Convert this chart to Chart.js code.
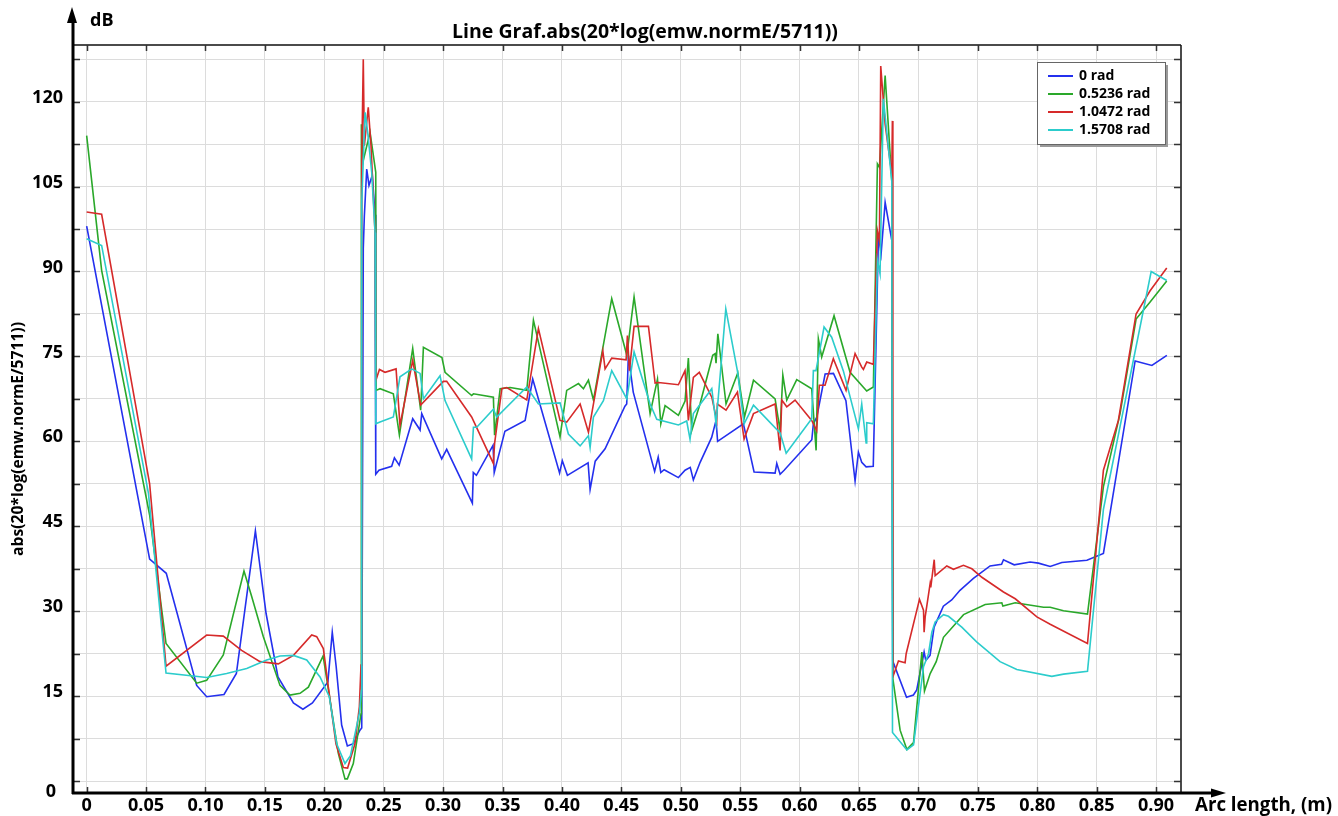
<!DOCTYPE html>
<html><head><meta charset="utf-8">
<script src="https://cdn.jsdelivr.net/npm/chart.js@4"></script>
<style>html,body{margin:0;padding:0;background:#fff}#wrap{width:1338px;height:816px;position:relative}</style>
</head><body><div id="wrap"><canvas id="c" width="1338" height="816"></canvas></div>
<script>
const seriesNames = ['0 rad', '0.5236 rad', '1.0472 rad', '1.5708 rad'];
const seriesColors = ['#2430ee', '#2aa82a', '#d62a2a', '#2ccccc'];

const blueX = [0,0.053,0.067,0.0926,0.101,0.1156,0.126,0.142,0.151,0.161,0.174,0.182,0.19,0.203,0.2067,0.21,0.2146,0.2194,0.2244,0.23,0.2315,0.2328,0.2337,0.2357,0.2376,0.2404,0.2427,0.2433,
0.246,0.2567,0.259,0.263,0.2744,0.2806,0.282,0.2988,0.303,0.3246,0.3254,0.328,0.342,0.343,0.352,0.369,0.3754,0.398,0.4003,0.4046,0.422,0.4237,0.428,0.4363,0.453,0.4545,0.4559,0.46,0.478,0.481,0.4832,0.486,0.498,0.5036,0.508,0.5106,0.5163,0.526,0.5297,0.531,0.5527,0.5617,0.5794,0.5808,0.5836,0.587,0.6103,0.6116,0.6145,0.6215,0.6285,0.639,0.6467,0.6495,0.6523,0.656,0.662,
0.6664,0.6686,0.672,0.6776,0.6784,0.690,0.6958,0.6986,0.7048,0.7062,0.7098,0.7132,0.721,0.728,0.735,0.7463,0.7603,0.770,0.7716,0.7806,0.794,0.801,0.8109,0.8207,0.8418,0.8557,0.8824,0.8965,0.9091];
const blueY = [98,39.2,36.7,16.9,14.9,15.3,19,44.2,29.6,18.4,13.8,12.7,13.8,17.5,26.3,20.2,9.9,6.2,6.6,9.0,9.4,94,99.8,108.1,105.2,107,100,54.2,
54.9,55.6,57.1,55.8,64,62,64.9,56.9,58.6,49.1,54.5,54,59.3,54.5,61.8,63.7,71,54.4,56.6,54,56.2,51.5,56.5,58.7,66.2,66.6,75.2,68.7,54.7,57.2,54.5,55,53.6,54.9,55.4,53.2,56.3,60.7,63.7,60,63.1,54.6,54.4,56.1,54.2,54.9,60.3,63.1,64.3,71.9,72,67.2,53,58.1,56.3,55.5,55.6,
96.6,93.1,102.2,95.5,21.2,14.8,15.2,16.1,22.8,21.3,22.2,27.2,30.9,32.0,33.7,35.8,38,38.3,39.1,38.2,38.7,38.5,37.9,38.6,39,40.2,74.2,73.4,75.2];

const greenX = [0,0.0126,0.053,0.0668,0.0926,0.101,0.115,0.1324,0.139,0.1487,0.1627,0.1711,0.1796,0.1866,0.199,0.2118,0.2174,0.2194,0.2244,0.2309,0.2312,0.2328,0.2385,0.2433,
0.2436,0.2469,0.2581,0.2632,0.2744,0.2811,0.2834,0.299,0.3016,0.324,0.3255,0.3423,0.3433,0.348,0.3564,0.3704,0.376,0.3984,0.404,0.4139,0.4181,0.4223,0.4265,0.4419,0.4546,0.4607,0.4742,0.4804,0.4832,0.4868,0.498,0.5036,0.5064,0.5092,0.5162,0.5269,0.5289,0.5297,0.5312,0.5381,0.548,0.5536,0.5612,0.5794,0.5836,0.5859,0.5892,0.5976,0.6102,0.6139,0.6158,0.6186,0.629,0.6425,0.6565,0.6621,
0.6655,0.6672,0.672,0.6776,0.6785,0.6846,0.6903,0.6959,0.7029,0.7051,0.7099,0.715,0.7211,0.738,0.7562,0.7702,0.7711,0.7815,0.8053,0.8109,0.8221,0.8423,0.8557,0.8697,0.8832,0.895,0.909];
const greenY = [114,90.2,47,24.3,17.3,17.8,22.3,37.1,32.5,25.5,16.9,15.2,15.5,16.6,22.1,4.9,0.4,0.4,3.1,11.9,116,109.6,114.6,107.5,
69.0,69.3,68.4,61.1,76.4,65.5,76.6,74.8,72.2,68.1,68.4,67.8,61.1,69.3,69.5,69.0,81.4,60.8,69.0,70.2,69.3,70.8,67.3,85.2,75.2,85.5,64.9,71.0,63.1,66.3,64.6,67.1,74.7,61.9,66.6,75.2,75.5,73.8,79.0,66.6,72.1,64.3,70.8,67.5,61.9,71.7,67.3,70.9,69.3,58.4,78.1,74.9,82.2,72.2,68.9,69.6,
109.0,108.4,124.6,106.0,18.1,9.0,5.6,6.8,22.8,15.9,19.0,21.1,25.4,29.4,31.2,31.5,30.9,31.5,30.7,30.7,30.1,29.5,52,64.9,81.6,84.6,88.3];

const redX = [0,0.0126,0.053,0.0668,0.101,0.115,0.1304,0.1459,0.1613,0.174,0.1894,0.1936,0.1992,0.2034,0.2098,0.216,0.2196,0.2258,0.2295,0.2309,0.2315,0.2328,0.2337,0.237,0.2393,0.2427,
0.2433,0.2464,0.2511,0.2604,0.2637,0.2744,0.2811,0.3002,0.303,0.324,0.3423,0.3433,0.3494,0.3536,0.3704,0.3802,0.3984,0.404,0.4153,0.4223,0.4344,0.4363,0.4419,0.454,0.4551,0.4568,0.4607,0.4728,0.4784,0.4812,0.498,0.5036,0.5064,0.5106,0.5156,0.5261,0.5303,0.5308,0.5381,0.5477,0.5533,0.5612,0.5794,0.5836,0.585,0.5892,0.5962,0.6102,0.6144,0.6166,0.6214,0.6284,0.6391,0.6467,0.6523,0.6537,0.6565,0.6621,
0.6655,0.6672,0.6683,0.672,0.6776,0.6781,0.6785,0.6832,0.6888,0.6897,0.7009,0.7043,0.7048,0.7057,0.7099,0.7104,0.7133,0.7141,0.7239,0.7295,0.7379,0.745,0.7534,0.7716,0.7815,0.7997,0.8109,0.8423,0.8557,0.8683,0.8832,0.895,0.909];
const redY = [100.5,100.1,52.5,20.3,25.8,25.6,23.1,21.1,20.7,22.2,25.8,25.5,23.4,16.6,6.6,2.4,2.3,6.6,13.1,20.5,109.9,127.5,112.2,119,112.2,96.9,
70.7,72.7,72.2,72.8,62.8,74.3,66.4,70.6,70.6,64.3,56.1,59.6,69.3,69.5,67.3,79.9,63.7,63.4,66.6,61.6,76.0,72.8,74.7,74.4,78.7,72.5,80.3,80.3,70.3,70.4,70.0,72.5,63.7,71.3,72.2,67.8,63.7,66.6,65.5,68.7,60.4,64.9,66.6,58.4,67.3,66.1,67.3,63.7,61.9,69.9,69.9,74.6,69.0,75.5,73.1,72.7,74.0,73.6,
97.2,95.4,126.3,116.0,107.2,116.6,18.4,21.2,20.9,22.5,32.1,30.2,26.3,29.0,34.9,34.2,39.1,36.3,38.0,37.4,38.1,37.5,36.0,33.4,32.2,29.0,27.7,24.3,54.9,63.7,82.5,86.6,90.6];

const cyanX = [0,0.0126,0.052,0.0668,0.101,0.1178,0.1347,0.1515,0.1627,0.174,0.1852,0.1964,0.2042,0.2104,0.2174,0.222,0.2295,0.2312,0.2315,0.2343,0.2365,0.2399,0.2427,
0.2433,0.2469,0.2581,0.2637,0.2736,0.2806,0.2834,0.2974,0.3016,0.324,0.3255,0.3283,0.3423,0.3451,0.3704,0.3802,0.3984,0.4054,0.4153,0.4223,0.4237,0.4265,0.4349,0.4419,0.4546,0.4607,0.4742,0.4798,0.498,0.505,0.5078,0.5106,0.5261,0.5297,0.5379,0.5477,0.5533,0.5612,0.5836,0.5887,0.6102,0.6116,0.6138,0.6206,0.627,0.6369,0.6495,0.6523,0.656,0.6565,0.6621,
0.6655,0.6677,0.6705,0.6776,0.6782,0.6903,0.6959,0.7043,0.7085,0.7113,0.7141,0.7211,0.7253,0.7365,0.749,0.7687,0.7828,0.8123,0.8221,0.8423,0.8557,0.8959,0.909];
const cyanY = [95.8,94.6,50.8,19.1,18.3,19,19.9,21.4,22.1,22.2,21.4,18.4,14.9,6.6,3.1,4.5,12,16,102.2,118.1,114.6,107.5,96.9,
63.1,63.4,64.3,71.4,72.8,72.0,67.5,71.6,67.2,56.9,62.5,62.5,65.7,64.3,69.6,66.6,66.8,61.3,59.2,61.0,58.9,64.3,67.2,72.5,67.5,75.8,66.6,63.9,62.9,63.6,60.4,64.9,69.3,63.1,83.4,72.4,63.1,66.4,61.5,57.9,64.0,72.5,72.5,80.2,78.4,72.4,62.2,66.6,59.7,63.3,63.1,
92.0,89.6,120.5,106,8.6,5.5,6.4,20.2,22.5,26.3,28.1,29.4,29.1,27.2,24.6,21.1,19.7,18.5,18.9,19.4,48,90,88.4];

const xTickValues = [0,0.05,0.10,0.15,0.20,0.25,0.30,0.35,0.40,0.45,0.50,0.55,0.60,0.65,0.70,0.75,0.80,0.85,0.90];
const xTickLabels = ['0','0.05','0.10','0.15','0.20','0.25','0.30','0.35','0.40','0.45','0.50','0.55','0.60','0.65','0.70','0.75','0.80','0.85','0.90'];
const yGridValues = [0,7.5,15,22.5,30,37.5,45,52.5,60,67.5,75,82.5,90,97.5,105,112.5,120,127.5];
const yLabelValues = [0,15,30,45,60,75,90,105,120];

const chartTitle = 'Line Graf.abs(20*log(emw.normE/5711))';
const yTitle = 'abs(20*log(emw.normE/5711))';
const xTitle = 'Arc length, (m)';
const yUnit = 'dB';

const FONT = "'Open Sans', sans-serif";

function pts(xs, ys) { return xs.map((x, i) => ({ x: x, y: ys[i] })); }

function fitFont(ctx, text, target, weight) {
  ctx.font = weight + ' 20px ' + FONT;
  const w = ctx.measureText(text).width;
  return 20 * target / w;
}

const decor = {
  id: 'decor',
  afterDraw(chart) {
    const ctx = chart.ctx;
    const a = chart.chartArea;
    const xs = chart.scales.x, ys = chart.scales.y;
    ctx.save();
    ctx.strokeStyle = '#111';
    ctx.lineWidth = 1.5;
    ctx.beginPath();
    ctx.moveTo(a.left, a.top); ctx.lineTo(a.right, a.top);
    ctx.moveTo(a.right, a.top); ctx.lineTo(a.right, a.bottom);
    ctx.stroke();
    ctx.strokeStyle = '#333';
    ctx.lineWidth = 1.5;
    ctx.beginPath();
    xTickValues.forEach(v => {
      const p = Math.round(xs.getPixelForValue(v)) + 0.5;
      ctx.moveTo(p, a.top); ctx.lineTo(p, a.top + 6);
      ctx.moveTo(p, a.bottom); ctx.lineTo(p, a.bottom - 6);
    });
    yGridValues.forEach(v => {
      const p = Math.round(ys.getPixelForValue(v)) + 0.5;
      ctx.moveTo(a.left, p); ctx.lineTo(a.left + 7, p);
      ctx.moveTo(a.right, p); ctx.lineTo(a.right - 7, p);
    });
    ctx.stroke();
    ctx.strokeStyle = '#000';
    ctx.fillStyle = '#000';
    ctx.lineWidth = 3;
    ctx.beginPath();
    ctx.moveTo(a.left, a.bottom + 1); ctx.lineTo(a.left, 20);
    ctx.moveTo(a.left - 1, a.bottom); ctx.lineTo(1212, a.bottom);
    ctx.stroke();
    ctx.beginPath();
    ctx.moveTo(a.left - 1, 7); ctx.lineTo(a.left - 6, 23); ctx.lineTo(a.left + 4, 23); ctx.closePath();
    ctx.fill();
    ctx.beginPath();
    ctx.moveTo(1226, a.bottom); ctx.lineTo(1211, a.bottom - 4.5); ctx.lineTo(1211, a.bottom + 4.5); ctx.closePath();
    ctx.fill();

    ctx.fillStyle = '#000';
    ctx.textBaseline = 'middle';
    ctx.textAlign = 'center';
    let fs = fitFont(ctx, chartTitle, 386, 'bold');
    ctx.font = 'bold ' + fs.toFixed(2) + 'px ' + FONT;
    ctx.fillText(chartTitle, 645, 32);
    ctx.textAlign = 'left';
    ctx.font = 'bold 18px ' + FONT;
    ctx.fillText(yUnit, 90, 21);
    ctx.textAlign = 'center';
    ctx.font = 'bold 18px ' + FONT;
    ctx.fillText('0', 51, 792);
    fs = fitFont(ctx, xTitle, 137, 'bold');
    ctx.font = 'bold ' + fs.toFixed(2) + 'px ' + FONT;
    ctx.textAlign = 'left';
    ctx.fillText(xTitle, 1195, 806);
    fs = fitFont(ctx, yTitle, 234, 'bold');
    ctx.save();
    ctx.translate(19, 439);
    ctx.rotate(-Math.PI / 2);
    ctx.textAlign = 'center';
    ctx.font = 'bold ' + fs.toFixed(2) + 'px ' + FONT;
    ctx.fillText(yTitle, 0, 0);
    ctx.restore();

    const lx = 1037, ly = 62, lw = 128, lh = 82;
    ctx.fillStyle = '#9a9a9a';
    ctx.fillRect(lx + 3, ly + 3, lw, lh);
    ctx.fillStyle = '#fff';
    ctx.fillRect(lx, ly, lw, lh);
    ctx.strokeStyle = '#666';
    ctx.lineWidth = 1;
    ctx.strokeRect(lx + 0.5, ly + 0.5, lw, lh);
    chart.data.datasets.forEach((ds, i) => {
      const yy = 76 + i * 18;
      ctx.strokeStyle = ds.borderColor;
      ctx.lineWidth = 2;
      ctx.beginPath(); ctx.moveTo(1048, yy); ctx.lineTo(1073, yy); ctx.stroke();
      ctx.fillStyle = '#000';
      ctx.textAlign = 'left';
      ctx.font = 'bold 14px ' + FONT;
      ctx.fillText(ds.label, 1079, yy + 0.5);
    });
    ctx.restore();
  }
};

const datasets = [
  { label: seriesNames[0], data: pts(blueX, blueY), borderColor: seriesColors[0], order: 3 },
  { label: seriesNames[1], data: pts(greenX, greenY), borderColor: seriesColors[1], order: 2 },
  { label: seriesNames[2], data: pts(redX, redY), borderColor: seriesColors[2], order: 1 },
  { label: seriesNames[3], data: pts(cyanX, cyanY), borderColor: seriesColors[3], order: 0 }
].map(d => Object.assign(d, { borderWidth: 1.6, pointRadius: 0, tension: 0, fill: false }));

new Chart(document.getElementById('c'), {
  type: 'line',
  data: { datasets: datasets },
  plugins: [decor],
  options: {
    responsive: false,
    animation: false,
    devicePixelRatio: 1,
    layout: { padding: { top: 45, right: 157, left: 0, bottom: 0 } },
    plugins: { legend: { display: false }, tooltip: { enabled: false }, title: { display: false } },
    scales: {
      x: {
        type: 'linear', min: -0.0115, max: 0.921,
        afterBuildTicks: s => { s.ticks = xTickValues.map(v => ({ value: v })); },
        afterFit: s => { s.height = 23; },
        grid: { color: '#dcdcdc', lineWidth: 1, drawTicks: false },
        border: { display: false },
        ticks: {
          autoSkip: false, maxRotation: 0, padding: 2, color: '#000',
          font: { family: FONT, size: 18, weight: 'bold' },
          callback: (v, i) => xTickLabels[i]
        }
      },
      y: {
        type: 'linear', min: -2.1, max: 130,
        afterBuildTicks: s => { s.ticks = yGridValues.map(v => ({ value: v })); },
        afterFit: s => { s.width = 73; },
        grid: { color: '#dcdcdc', lineWidth: 1, drawTicks: false },
        border: { display: false },
        ticks: {
          padding: 10, color: '#000', labelOffset: -4,
          font: { family: FONT, size: 18, weight: 'bold' },
          callback: v => (yLabelValues.indexOf(v) > 0 ? String(v) : '')
        }
      }
    }
  }
});
</script></body></html>
